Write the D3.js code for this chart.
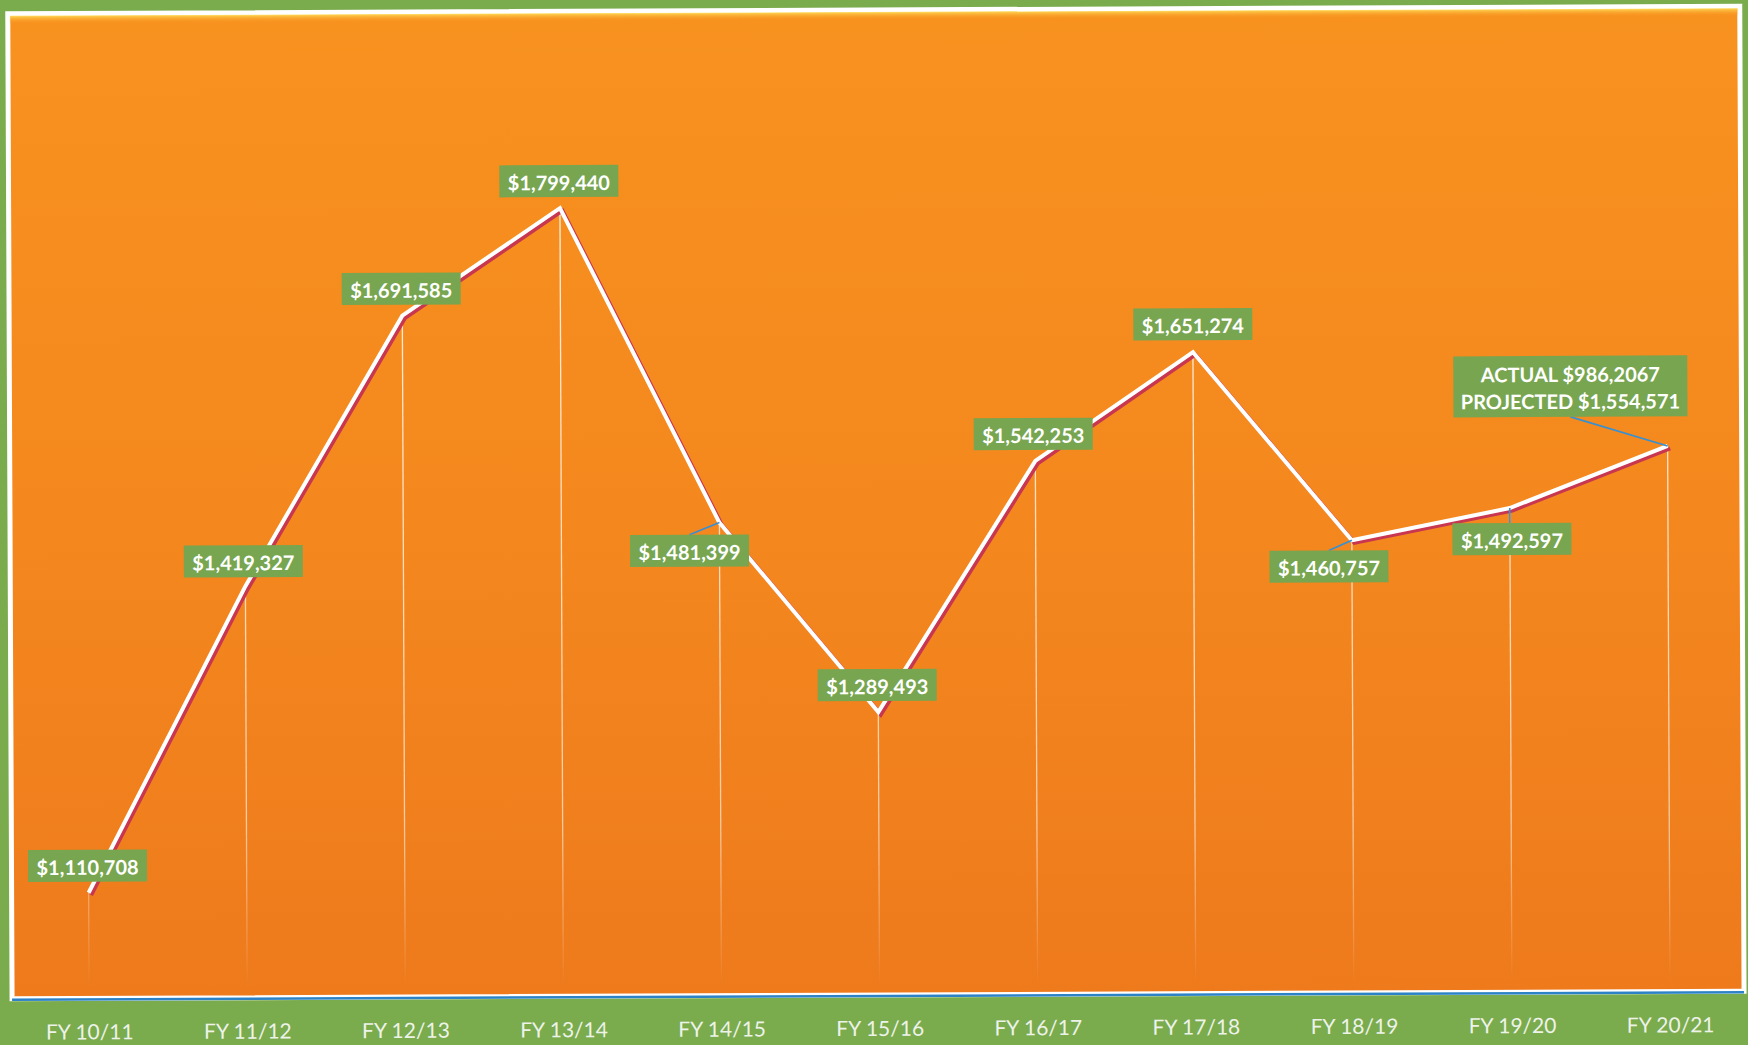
<!DOCTYPE html>
<html>
<head>
<meta charset="utf-8">
<script src="https://cdn.jsdelivr.net/npm/d3@7"></script>
<style>
  body { margin: 0; background: #7aab4d; }
  svg { display: block; }
  .axis--label { font-family: Lato, "Open Sans", sans-serif; font-size: 21px; fill: #eef3ea; }
  .value--label { font-family: Lato, "Open Sans", sans-serif; font-size: 20px; font-weight: bold; fill: #ffffff; }
</style>
</head>
<body>
<div id="chart"></div>
<script>
// chart values
const years = ["FY 10/11", "FY 11/12", "FY 12/13", "FY 13/14", "FY 14/15", "FY 15/16",
               "FY 16/17", "FY 17/18", "FY 18/19", "FY 19/20", "FY 20/21"];
const amounts = [1110708, 1419327, 1691585, 1799440, 1481399, 1289493,
                 1542253, 1651274, 1460757, 1492597, 1554571];
const valueLabels = [["$1,110,708"], ["$1,419,327"], ["$1,691,585"], ["$1,799,440"], ["$1,481,399"],
                     ["$1,289,493"], ["$1,542,253"], ["$1,651,274"], ["$1,460,757"], ["$1,492,597"],
                     ["ACTUAL $986,2067", "PROJECTED $1,554,571"]];
const yDomain = [1000000, 2000000];

// where each label box sits relative to its point (box centre offset)
const labelOffset = [[-1, -27], [-2, -25], [-1, -27], [-1, -27], [-30, 28], [-1, -27],
                     [-2, -27], [0, -28], [-23, 26], [2, 31], [-97, -60]];

const width = 1748;
const height = 1045;
const plot = {left: 10, top: 10, right: 1742, bottom: 995};

const svg = d3.select("#chart")
    .append("svg")
    .attr("width", width)
    .attr("height", height);

const defs = svg.append("defs");

const bg = defs.append("linearGradient")
    .attr("id", "orange")
    .attr("x1", 0).attr("y1", 0).attr("x2", 0).attr("y2", 1);
bg.append("stop").attr("offset", 0).attr("stop-color", "#f8921f");
bg.append("stop").attr("offset", 0.5).attr("stop-color", "#f4881e");
bg.append("stop").attr("offset", 1).attr("stop-color", "#ee7a1c");

const glow = defs.append("linearGradient")
    .attr("id", "glow")
    .attr("x1", 0).attr("y1", 0).attr("x2", 0).attr("y2", 1);
glow.append("stop").attr("offset", 0).attr("stop-color", "#ffdf5a").attr("stop-opacity", 0.9);
glow.append("stop").attr("offset", 1).attr("stop-color", "#f8941f").attr("stop-opacity", 0);

const drop = defs.append("linearGradient")
    .attr("id", "drop")
    .attr("gradientUnits", "userSpaceOnUse")
    .attr("x1", 0).attr("y1", 150).attr("x2", 0).attr("y2", 985);
drop.append("stop").attr("offset", 0).attr("stop-color", "#ffffff").attr("stop-opacity", 0.9);
drop.append("stop").attr("offset", 0.8).attr("stop-color", "#ffffff").attr("stop-opacity", 0.6);
drop.append("stop").attr("offset", 1).attr("stop-color", "#ffffff").attr("stop-opacity", 0);

// the scan is a touch tilted, so the whole chart gets the same small turn
const chart = svg.append("g")
    .attr("transform", `rotate(-0.25, ${width / 2}, ${height / 2})`);

// plot area
chart.append("rect")
    .attr("x", plot.left)
    .attr("y", plot.top)
    .attr("width", plot.right - plot.left)
    .attr("height", plot.bottom - plot.top)
    .attr("fill", "url(#orange)")
    .attr("stroke", "#ffffff")
    .attr("stroke-width", 5);

chart.append("rect")
    .attr("x", plot.left + 2)
    .attr("y", plot.top + 2)
    .attr("width", plot.right - plot.left - 4)
    .attr("height", 8)
    .attr("fill", "url(#glow)");

const xScale = d3.scalePoint()
    .domain(years)
    .range([8, 1747])
    .padding(0.5);

const yScale = d3.scaleLinear()
    .domain(yDomain)
    .range([999, 8]);

// blue axis line along the bottom
chart.append("line")
    .attr("x1", plot.left)
    .attr("x2", plot.right)
    .attr("y1", plot.bottom + 1)
    .attr("y2", plot.bottom + 1)
    .attr("stroke", "#2b82c6")
    .attr("stroke-width", 2.5);

const xAxis = chart.append("g")
    .attr("transform", `translate(0,${plot.bottom})`)
    .call(d3.axisBottom(xScale).tickSize(0).tickPadding(26));
xAxis.select(".domain").remove();
xAxis.selectAll("text")
    .attr("class", "axis--label")
    .attr("fill", null);

const data = years.map((d, i) => ({year: d, value: amounts[i], label: valueLabels[i], off: labelOffset[i]}));

// drop lines
chart.selectAll(".dropline")
    .data(data)
    .enter()
    .append("line")
    .attr("class", "dropline")
    .attr("x1", d => xScale(d.year))
    .attr("x2", d => xScale(d.year))
    .attr("y1", d => yScale(d.value))
    .attr("y2", 985)
    .attr("stroke", "url(#drop)")
    .attr("stroke-width", 1.3);

const line = d3.line()
    .x(d => xScale(d.year))
    .y(d => yScale(d.value));

// shadow then white line
chart.append("path")
    .datum(data)
    .attr("d", line)
    .attr("transform", "translate(2.5,2.5)")
    .attr("fill", "none")
    .attr("stroke", "#c8364f")
    .attr("stroke-width", 4)
    .attr("stroke-linejoin", "miter");

chart.append("path")
    .datum(data)
    .attr("d", line)
    .attr("fill", "none")
    .attr("stroke", "#ffffff")
    .attr("stroke-width", 4)
    .attr("stroke-linejoin", "miter");

// labels
const labels = chart.selectAll(".value")
    .data(data)
    .enter()
    .append("g")
    .attr("class", "value")
    .attr("transform", d => `translate(${xScale(d.year) + d.off[0]},${yScale(d.value) + d.off[1]})`);

labels.each(function(d) {
    const g = d3.select(this);
    const lineH = 27;
    const boxH = d.label.length === 1 ? 32 : 61;
    const boxW = d.label.length === 1 ? 119 : 234;

    // leader line for boxes that are moved away from their point
    if (Math.abs(d.off[0]) > 10) {
        const y0 = d.off[1] > 0 ? -boxH / 2 : boxH / 2;
        g.append("line")
            .attr("x1", 0)
            .attr("y1", y0)
            .attr("x2", -d.off[0])
            .attr("y2", -d.off[1])
            .attr("stroke", "#3590d6")
            .attr("stroke-width", 1.6);
    }
    if (d.label.length === 1 && d.off[1] > 0 && Math.abs(d.off[0]) <= 10) {
        g.append("line")
            .attr("x1", -d.off[0])
            .attr("y1", -boxH / 2)
            .attr("x2", -d.off[0])
            .attr("y2", -d.off[1])
            .attr("stroke", "#3590d6")
            .attr("stroke-width", 1.6);
    }

    g.append("rect")
        .attr("x", -boxW / 2)
        .attr("y", -boxH / 2)
        .attr("width", boxW)
        .attr("height", boxH)
        .attr("fill", "#78a54f");

    d.label.forEach(function(t, i) {
        g.append("text")
            .attr("class", "value--label")
            .attr("text-anchor", "middle")
            .attr("dominant-baseline", "central")
            .attr("x", 0)
            .attr("y", (i - (d.label.length - 1) / 2) * lineH + 1)
            .text(t);
    });
});
</script>
</body>
</html>
